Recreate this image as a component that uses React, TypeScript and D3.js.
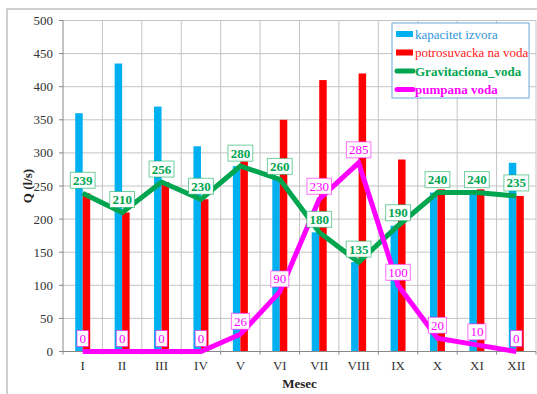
import React from "react";
import * as d3 from "d3";

const months = ["I", "II", "III", "IV", "V", "VI", "VII", "VIII", "IX", "X", "XI", "XII"];
const kapacitet = [360, 435, 370, 310, 280, 260, 180, 135, 190, 240, 240, 285];
const potrosuvacka = [239, 210, 256, 230, 287, 350, 410, 420, 290, 245, 245, 235];
const gravitaciona = [239, 210, 256, 230, 280, 260, 180, 135, 190, 240, 240, 235];
const pumpana = [0, 0, 0, 0, 26, 90, 230, 285, 100, 20, 10, 0];
const yTicks = [0, 50, 100, 150, 200, 250, 300, 350, 400, 450, 500];

const W = 537, H = 394;
const plot = { left: 63, right: 536, top: 20.5, bottom: 351.5 };
const FONT = "'Liberation Serif', 'Times New Roman', serif";
const BLUE = "#00B0F0", RED = "#FF0000", GREEN = "#00A550", MAG = "#FF00FF";

export default function App() {
  const x = d3.scaleBand<string>().domain(months).range([plot.left, plot.right]).padding(0);
  const y = d3.scaleLinear().domain([0, 500]).range([plot.bottom, plot.top]);
  const cx = (m: string) => (x(m) as number) + x.bandwidth() / 2;
  const bw = 7.5;
  const line = d3.line<number>().x((_, i) => cx(months[i])).y((d) => y(d));
  const labelW = (s: string, bold: boolean) => s.length * (bold ? 6.6 : 6.5) + 5;

  const labels = (vals: number[], color: string, bold: boolean) =>
    vals.map((v, i) => {
      const s = String(v);
      const w = labelW(s, bold);
      const px = cx(months[i]);
      const py = y(v) - 13;
      return (
        <g key={i}>
          <rect x={px - w / 2} y={py - 8} width={w} height={16} fill="#fff" stroke={color} strokeOpacity={0.55} strokeWidth={1} />
          <text x={px} y={py + 4.5} textAnchor="middle" fontFamily={FONT} fontSize={13} fontWeight={bold ? "bold" : "normal"} fill={color}>{s}</text>
        </g>
      );
    });

  const legend = [
    { t: "kapacitet izvora", c: BLUE, tc: "#2E95D8", kind: "bar", bold: false },
    { t: "potrosuvacka na voda", c: RED, tc: "#FF2020", kind: "bar", bold: false },
    { t: "Gravitaciona_voda", c: GREEN, tc: GREEN, kind: "line", bold: true },
    { t: "pumpana voda", c: MAG, tc: MAG, kind: "line", bold: true },
  ];

  return (
    <svg width={W} height={H} style={{ position: "absolute", left: 0, top: 0, background: "#fff" }}>
      <rect x={7} y={9} width={W} height={H} fill="#fff" stroke="#a0a0a0" strokeWidth={1} />
      {yTicks.map((t) => (
        <line key={"h" + t} x1={plot.left} x2={plot.right} y1={y(t)} y2={y(t)} stroke="#c4c4c4" strokeWidth={1} />
      ))}
      {months.map((m) => (
        <line key={"v" + m} x1={(x(m) as number) + x.bandwidth()} x2={(x(m) as number) + x.bandwidth()} y1={plot.top} y2={plot.bottom} stroke="#c4c4c4" strokeWidth={1} />
      ))}
      {months.map((m, i) => (
        <g key={"b" + m}>
          <rect x={cx(m) - bw} y={y(kapacitet[i])} width={bw} height={plot.bottom - y(kapacitet[i])} fill={BLUE} />
          <rect x={cx(m)} y={y(potrosuvacka[i])} width={bw} height={plot.bottom - y(potrosuvacka[i])} fill={RED} />
        </g>
      ))}
      <line x1={plot.left} x2={plot.left} y1={plot.top} y2={plot.bottom} stroke="#888" />
      <line x1={plot.left} x2={plot.right} y1={plot.bottom} y2={plot.bottom} stroke="#888" />
      {yTicks.map((t) => (
        <g key={"yt" + t}>
          <line x1={plot.left - 4} x2={plot.left} y1={y(t)} y2={y(t)} stroke="#888" />
          <text x={53} y={y(t) + 4.5} textAnchor="end" fontFamily={FONT} fontSize={13} fill="#333">{t}</text>
        </g>
      ))}
      {[plot.left, ...months.map((m) => (x(m) as number) + x.bandwidth())].map((xx, i) => (
        <line key={"xt" + i} x1={xx} x2={xx} y1={plot.bottom} y2={plot.bottom + 3} stroke="#888" />
      ))}
      {months.map((m) => (
        <text key={"xl" + m} x={cx(m)} y={370} textAnchor="middle" fontFamily={FONT} fontSize={13} fill="#333">{m}</text>
      ))}
      <path d={line(gravitaciona) || ""} fill="none" stroke={GREEN} strokeWidth={5} strokeLinejoin="miter" />
      <path d={line(pumpana) || ""} fill="none" stroke={MAG} strokeWidth={5} strokeLinejoin="miter" />
      {labels(gravitaciona, GREEN, true)}
      {labels(pumpana, MAG, false)}
      <text transform={`translate(32,${(plot.top + plot.bottom) / 2}) rotate(-90)`} textAnchor="middle" fontFamily={FONT} fontSize={13} fontWeight="bold" fill="#222">Q (l/s)</text>
      <text x={(plot.left + plot.right) / 2} y={388} textAnchor="middle" fontFamily={FONT} fontSize={13} fontWeight="bold" fill="#222">Mesec</text>
      <rect x={392} y={23} width={137} height={75} fill="#fff" stroke="#6FA8DC" strokeWidth={1} />
      {legend.map((l, i) => {
        const ly = 34 + i * 18.5;
        return (
          <g key={"lg" + i}>
            {l.kind === "bar" ? (
              <rect x={396} y={ly - 3} width={17} height={6} fill={l.c} />
            ) : (
              <line x1={397} x2={413} y1={ly} y2={ly} stroke={l.c} strokeWidth={5} strokeLinecap="round" />
            )}
            <text x={415} y={ly + 4.5} fontFamily={FONT} fontSize={13} fontWeight={l.bold ? "bold" : "normal"} fill={l.tc}>{l.t}</text>
          </g>
        );
      })}
    </svg>
  );
}
